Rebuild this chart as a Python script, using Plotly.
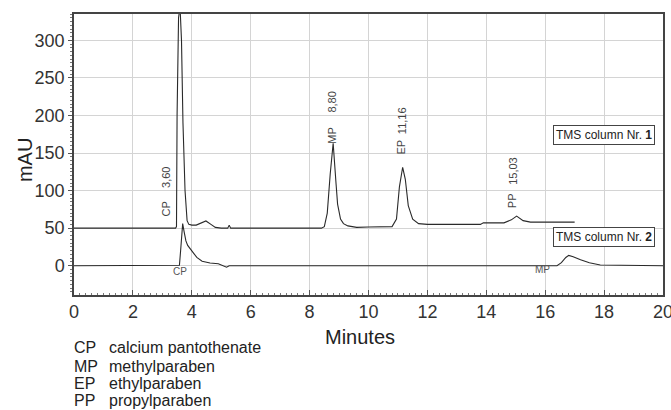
import plotly.graph_objects as go

# ---- data ----
# TMS column Nr. 1 (baseline ~50 mAU)
t1 = [0, 2.6, 2.7, 2.8, 2.9, 3.0, 3.1, 3.2, 3.3, 3.45, 3.48, 3.5, 3.55, 3.6, 3.65, 3.7, 3.77,
      3.84, 3.9, 4.0, 4.15, 4.3, 4.48, 4.65, 4.8, 5.0, 5.22, 5.27, 5.32, 6.0, 8.4, 8.5, 8.6,
      8.7, 8.8, 8.9, 8.95, 9.05, 9.15, 9.3, 9.6, 10.0, 10.8, 10.95, 11.05, 11.16, 11.25, 11.35,
      11.5, 11.7, 12.0, 13.8, 13.9, 14.6, 14.85, 15.03, 15.25, 15.5, 17.0]
a1 = [50, 50, 50.6, 49.6, 50.5, 49.7, 50.4, 49.8, 50.3, 50, 52, 200, 330, 345, 300, 190, 100,
      60, 55, 54, 54, 57, 59.5, 55, 51, 50, 50, 54, 50, 50, 50, 52, 70,
      122, 163, 108, 82, 62, 56, 53, 51, 51.5, 52, 62, 105, 131, 115, 80,
      62, 56, 55, 55, 57, 57, 61, 66, 60, 58, 58]

# TMS column Nr. 2 (baseline ~0 mAU)
t2 = [0, 3.3, 3.58, 3.62, 3.66, 3.69, 3.74, 3.8, 3.86, 3.95, 4.05, 4.17, 4.35, 4.62, 4.9,
      5.1, 5.18, 5.27, 10.2, 10.3, 10.4, 16.4, 16.55, 16.7, 16.8, 16.95, 17.2, 17.5, 17.87, 20]
a2 = [0, 0, 0.5, 20, 48, 56, 45, 33, 27, 22, 16, 11, 6, 3.6, 2.5,
      0, -2, 0, 0, 1, 0, 0, 4, 11, 13.7, 12, 8, 4, 1, 0]

# peak labels, column 1
peak_abbr = ["CP", "MP", "EP", "PP"]
peak_time = ["3,60", "8,80", "11,16", "15,03"]
peak_x = [3.12, 8.75, 11.12, 14.9]
peak_abbr_y = [76, 174, 158, 87]
peak_time_y = [118, 218, 193, 126]

# peak labels, column 2
col2_abbr = ["CP", "MP"]
col2_x = [3.6, 15.92]
col2_y = [-7.5, -4.4]

# column boxes
box_text = ["TMS column Nr. <b>1</b>", "TMS column Nr. <b>2</b>"]
box_x = [18.01, 18.01]
box_y = [174, 38]

# legend text under the chart
legend_abbr = ["CP", "MP", "EP", "PP"]
legend_name = ["calcium pantothenate", "methylparaben", "ethylparaben", "propylparaben"]

x_ticks = [0, 2, 4, 6, 8, 10, 12, 14, 16, 18, 20]
y_ticks = [0, 50, 100, 150, 200, 250, 300]

FONT = "Liberation Sans, Arial, Helvetica, sans-serif"
LINE = "#2a2a2a"

fig = go.Figure()
fig.add_trace(go.Scatter(x=t1, y=a1, mode="lines", line=dict(color=LINE, width=1.1),
                         showlegend=False, hoverinfo="skip"))
fig.add_trace(go.Scatter(x=t2, y=a2, mode="lines", line=dict(color=LINE, width=1.1),
                         showlegend=False, hoverinfo="skip"))

ann = []
for ab, tm, x, ya, yt in zip(peak_abbr, peak_time, peak_x, peak_abbr_y, peak_time_y):
    ann.append(dict(x=x, y=ya, xref="x", yref="y", text=ab, textangle=-90, showarrow=False,
                    font=dict(family=FONT, size=11, color="#444")))
    ann.append(dict(x=x, y=yt, xref="x", yref="y", text=tm, textangle=-90, showarrow=False,
                    font=dict(family=FONT, size=11, color="#444")))
for ab, x, y in zip(col2_abbr, col2_x, col2_y):
    ann.append(dict(x=x, y=y, xref="x", yref="y", text=ab, showarrow=False,
                    font=dict(family=FONT, size=10, color="#555")))
for tx, x, y in zip(box_text, box_x, box_y):
    ann.append(dict(x=x, y=y, xref="x", yref="y", text=tx, showarrow=False,
                    bordercolor="#444", borderwidth=1, borderpad=2, bgcolor="white",
                    font=dict(family=FONT, size=12, color="#222")))

rows_y = [-0.1886, -0.2527, -0.3132, -0.3772]
for ab, nm, ry in zip(legend_abbr, legend_name, rows_y):
    ann.append(dict(x=-0.0034, y=ry, xref="paper", yref="paper", text=ab, showarrow=False,
                    xanchor="left", yanchor="middle", font=dict(family=FONT, size=16, color="#222")))
    ann.append(dict(x=0.0552, y=ry, xref="paper", yref="paper", text=nm, showarrow=False,
                    xanchor="left", yanchor="middle", font=dict(family=FONT, size=16, color="#222")))

ann.append(dict(x=0.486, y=-0.149, xref="paper", yref="paper", text="Minutes", showarrow=False,
                xanchor="center", yanchor="middle", font=dict(family=FONT, size=20, color="#222")))
ann.append(dict(x=-0.0832, y=0.48, xref="paper", yref="paper", text="mAU", showarrow=False,
                textangle=-90, xanchor="center", yanchor="middle",
                font=dict(family=FONT, size=20, color="#222")))

fig.update_layout(
    width=671, height=410,
    margin=dict(l=74, r=8, t=14, b=115, autoexpand=False),
    paper_bgcolor="white", plot_bgcolor="white",
    font=dict(family=FONT, size=18, color="#333"),
    annotations=ann,
    xaxis=dict(range=[0, 20], tickvals=x_ticks, ticktext=[str(v) for v in x_ticks],
               ticklabeloverflow="allow", automargin=False,
               showgrid=True, gridcolor="#d4d4d4", gridwidth=1, zeroline=False,
               showline=True, linecolor="#444", linewidth=1.5, mirror=True,
               ticks="inside", ticklen=5, tickcolor="#555",
               minor=dict(dtick=0.2, ticks="inside", ticklen=2, tickcolor="#777", showgrid=False),
               tickfont=dict(family=FONT, size=18, color="#333")),
    yaxis=dict(range=[-39, 335], tickvals=y_ticks, ticktext=[str(v) for v in y_ticks],
               automargin=False,
               showgrid=True, gridcolor="#d4d4d4", gridwidth=1, zeroline=False,
               showline=True, linecolor="#444", linewidth=1.5, mirror=True,
               ticks="outside", ticklen=4, tickcolor="#555",
               minor=dict(dtick=5, ticks="outside", ticklen=2, tickcolor="#777", showgrid=False),
               tickfont=dict(family=FONT, size=18, color="#333")),
)

fig.write_html("out.html", config={"displayModeBar": False},
               post_script="document.body.style.margin='0';document.body.style.overflow='hidden';")
